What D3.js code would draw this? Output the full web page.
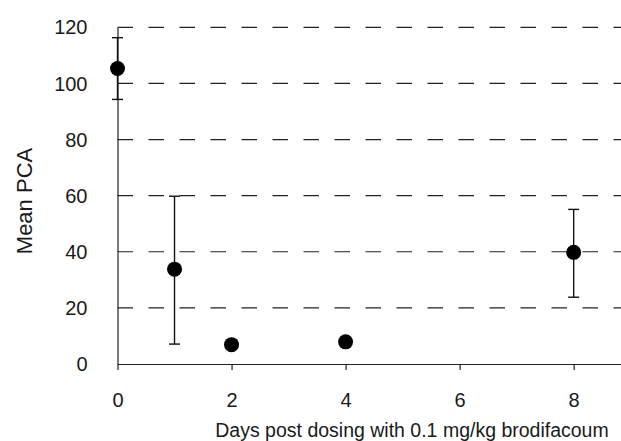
<!DOCTYPE html>
<html>
<head>
<meta charset="utf-8">
<script src="https://cdn.jsdelivr.net/npm/d3@7"></script>
<style>
  body { margin: 0; background: #fff; }
  svg text { font-family: Arial, "Liberation Sans", sans-serif; fill: #1a1a1a; }
</style>
</head>
<body>
<svg id="chart"></svg>
<script>
// valeurs
const days = [0, 1, 2, 4, 8];
const meanPCA = [105.3, 33.8, 6.9, 7.9, 39.8];
const errLow = [94.3, 7.1, null, null, 23.8];
const errHigh = [116.3, 59.8, null, null, 55.1];
const xTicks = [0, 2, 4, 6, 8];
const yTicks = [0, 20, 40, 60, 80, 100, 120];

const width = 621, height = 441;

const svg = d3.select("#chart")
    .attr("width", width)
    .attr("height", height);

const x = d3.scaleLinear().domain([0, 8.83]).range([117.5, 621]);
const y = d3.scaleLinear().domain([0, 120]).range([364, 27.3]);

// lignes de grille pointillées
svg.append("g")
    .selectAll("line")
    .data(yTicks.filter(t => t > 0))
    .join("line")
    .attr("x1", x(0))
    .attr("x2", width)
    .attr("y1", d => y(d))
    .attr("y2", d => y(d))
    .attr("stroke", "#222")
    .attr("stroke-width", 1.2)
    .attr("stroke-dasharray", "15.5,15.5");

// axe Y (sans graduations)
const yAxis = svg.append("g")
    .attr("transform", `translate(${x(0)},0)`)
    .call(d3.axisLeft(y).tickValues(yTicks).tickSize(0).tickPadding(30));
yAxis.select(".domain").attr("stroke", "#222").attr("stroke-width", 1.2);
yAxis.selectAll("text").attr("font-size", 20).attr("dy", "0.33em").attr("fill", "#1a1a1a");

// axe X
const xAxis = svg.append("g")
    .attr("transform", `translate(0,${y(0)})`)
    .call(d3.axisBottom(x).tickValues(xTicks).tickSize(6).tickPadding(23).tickSizeOuter(0));
xAxis.select(".domain").attr("stroke", "#222").attr("stroke-width", 1.2);
xAxis.selectAll(".tick line").attr("stroke", "#222").attr("stroke-width", 1.2);
xAxis.selectAll("text").attr("font-size", 20).attr("fill", "#1a1a1a");

// barres d'erreur
const pts = days.map((d, i) => ({ day: d, mean: meanPCA[i], lo: errLow[i], hi: errHigh[i] }));
const eb = svg.append("g").selectAll("g")
    .data(pts.filter(p => p.lo !== null))
    .join("g")
    .attr("stroke", "#111")
    .attr("stroke-width", 1.4);
eb.append("line")
    .attr("x1", d => x(d.day)).attr("x2", d => x(d.day))
    .attr("y1", d => y(d.lo)).attr("y2", d => y(d.hi));
eb.append("line")
    .attr("x1", d => x(d.day) - 5.5).attr("x2", d => x(d.day) + 5.5)
    .attr("y1", d => y(d.lo)).attr("y2", d => y(d.lo));
eb.append("line")
    .attr("x1", d => x(d.day) - 5.5).attr("x2", d => x(d.day) + 5.5)
    .attr("y1", d => y(d.hi)).attr("y2", d => y(d.hi));

// points
svg.append("g").selectAll("circle")
    .data(pts)
    .join("circle")
    .attr("cx", d => x(d.day))
    .attr("cy", d => y(d.mean))
    .attr("r", 7.5)
    .attr("fill", "#000");

// titres des axes
svg.append("text")
    .attr("x", 412)
    .attr("y", 437)
    .attr("text-anchor", "middle")
    .attr("font-size", 19.5)
    .text("Days post dosing with 0.1 mg/kg brodifacoum");

svg.append("text")
    .attr("transform", "translate(32,201) rotate(-90)")
    .attr("text-anchor", "middle")
    .attr("font-size", 22)
    .text("Mean PCA");
</script>
</body>
</html>
